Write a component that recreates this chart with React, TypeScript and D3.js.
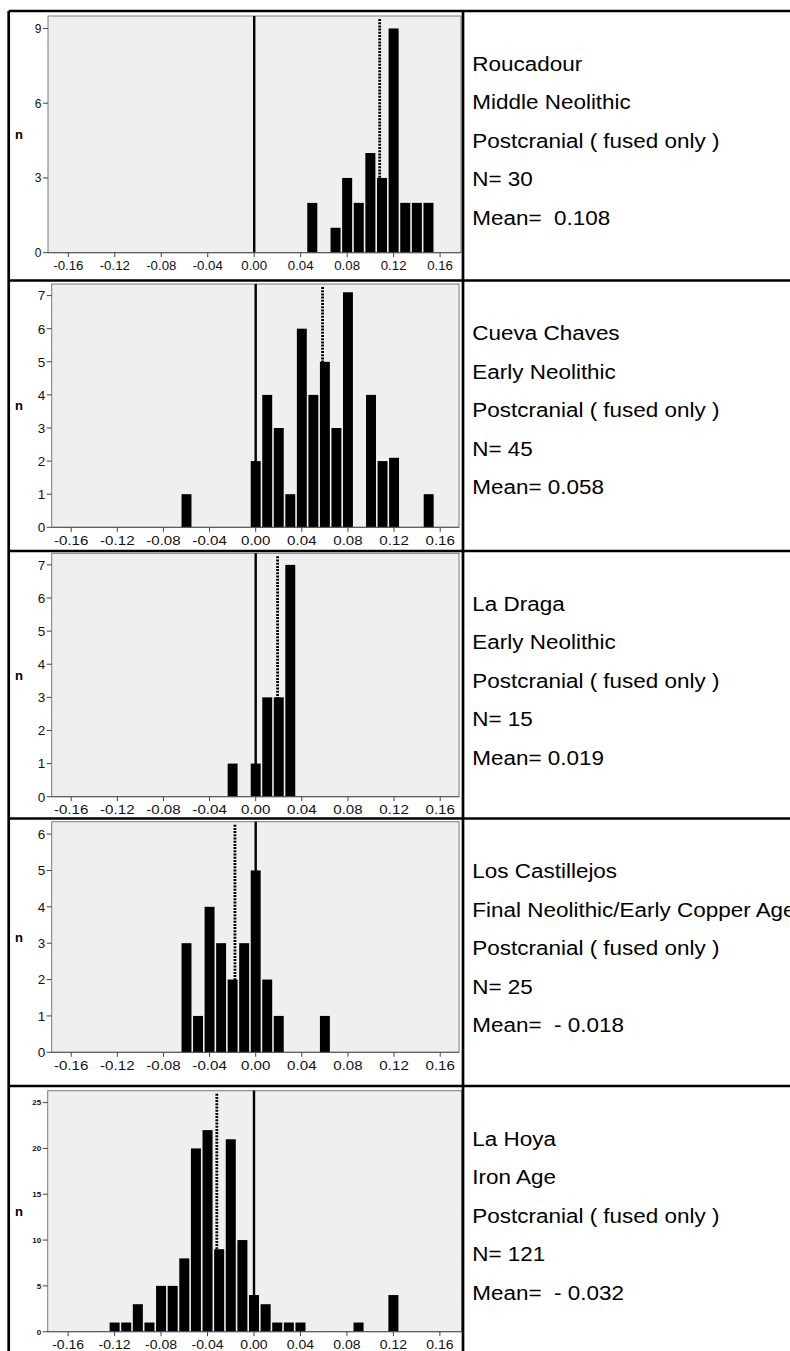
import React from "react";
import * as d3 from "d3";

// ---------- DATA ----------
const SITE_NAMES = ["Roucadour", "Cueva Chaves", "La Draga", "Los Castillejos", "La Hoya"];
const PERIODS = [
  "Middle Neolithic",
  "Early Neolithic",
  "Early Neolithic",
  "Final Neolithic/Early Copper Age",
  "Iron Age",
];
const SAMPLE_LABEL = "Postcranial ( fused only )";
const N_LABELS = ["N= 30", "N= 45", "N= 15", "N= 25", "N= 121"];
const MEAN_LABELS = ["Mean=  0.108", "Mean= 0.058", "Mean= 0.019", "Mean=  - 0.018", "Mean=  - 0.032"];
const MEAN_VALUES = [0.108, 0.058, 0.019, -0.018, -0.032];

const roucadourBins = [0.05, 0.07, 0.08, 0.09, 0.1, 0.11, 0.12, 0.13, 0.14, 0.15];
const roucadourCounts = [2, 1, 3, 2, 4, 3, 9, 2, 2, 2];

const cuevaBins = [-0.06, 0.0, 0.01, 0.02, 0.03, 0.04, 0.05, 0.06, 0.07, 0.08, 0.1, 0.11, 0.12, 0.15];
const cuevaCounts = [1, 2, 4, 3, 1, 6, 4, 5, 3, 7.1, 4, 2, 2.1, 1];

const dragaBins = [-0.02, 0.0, 0.01, 0.02, 0.03];
const dragaCounts = [1, 1, 3, 3, 7];

const castillejosBins = [-0.06, -0.05, -0.04, -0.03, -0.02, -0.01, 0.0, 0.01, 0.02, 0.06];
const castillejosCounts = [3, 1, 4, 3, 2, 3, 5, 2, 1, 1];

const hoyaBins = [
  -0.12, -0.11, -0.1, -0.09, -0.08, -0.07, -0.06, -0.05, -0.04, -0.03, -0.02, -0.01, 0.0, 0.01, 0.02,
  0.03, 0.04, 0.09, 0.12,
];
const hoyaCounts = [1, 1, 3, 1, 5, 5, 8, 20, 22, 9, 21, 10, 4, 3, 1, 1, 1, 1, 4];

const X_TICKS = [-0.16, -0.12, -0.08, -0.04, 0.0, 0.04, 0.08, 0.12, 0.16];
const Y_TICKS = [
  [0, 3, 6, 9],
  [0, 1, 2, 3, 4, 5, 6, 7],
  [0, 1, 2, 3, 4, 5, 6, 7],
  [0, 1, 2, 3, 4, 5, 6],
  [0, 5, 10, 15, 20, 25],
];
const BINS = [roucadourBins, cuevaBins, dragaBins, castillejosBins, hoyaBins];
const COUNTS = [roucadourCounts, cuevaCounts, dragaCounts, castillejosCounts, hoyaCounts];
const BIN_WIDTH = 0.01;

// ---------- LAYOUT ----------
type Layout = {
  rowTop: number;
  left: number;
  right: number;
  top: number;
  bottom: number;
  xDomain: [number, number];
  yMax: number;
  xFont: number;
  xStretch: number;
  yFont: number;
  yBold: boolean;
};

const LAYOUTS: Layout[] = [
  { rowTop: 11, left: 48, right: 461, top: 16, bottom: 252.7, xDomain: [-0.1775, 0.178], yMax: 9.5, xFont: 12.5, xStretch: 1.06, yFont: 12, yBold: false },
  { rowTop: 280.5, left: 51.7, right: 459, top: 284, bottom: 527.3, xDomain: [-0.1769, 0.1763], yMax: 7.35, xFont: 13.5, xStretch: 1.12, yFont: 13.5, yBold: false },
  { rowTop: 551, left: 51.7, right: 459, top: 553.3, bottom: 796.7, xDomain: [-0.1769, 0.1763], yMax: 7.35, xFont: 13.5, xStretch: 1.12, yFont: 13.5, yBold: false },
  { rowTop: 818.5, left: 51.7, right: 459, top: 821.7, bottom: 1052.3, xDomain: [-0.1769, 0.1763], yMax: 6.34, xFont: 13.5, xStretch: 1.12, yFont: 13.5, yBold: false },
  { rowTop: 1086, left: 47.7, right: 461.7, top: 1090.7, bottom: 1331.7, xDomain: [-0.1776, 0.1788], yMax: 26.3, xFont: 13, xStretch: 1.08, yFont: 8, yBold: true },
];

const ROW_DIVIDERS = [280.5, 551, 818.5, 1086];
const FRAME_LEFT = 8.7;
const FRAME_TOP = 11;
const COL_DIVIDER = 463;
const TEXT_X = 472.3;
const FONT = "'Liberation Sans', Arial, Helvetica, sans-serif";

function fmtTick(v: number) {
  const s = Math.abs(v).toFixed(2);
  return v < 0 ? "-" + s : s;
}

function Panel({ i }: { i: number }) {
  const L = LAYOUTS[i];
  const x = d3.scaleLinear().domain(L.xDomain).range([L.left, L.right]);
  const y = d3.scaleLinear().domain([0, L.yMax]).range([L.bottom, L.top]);
  const bins = BINS[i];
  const counts = COUNTS[i];
  const binPx = x(BIN_WIDTH) - x(0);
  const barW = binPx - 1.6;
  const labelY = L.bottom + 12.6 + 0.36 * L.xFont;
  const textLines = [SITE_NAMES[i], PERIODS[i], SAMPLE_LABEL, N_LABELS[i], MEAN_LABELS[i]];
  return (
    <g>
      <rect x={L.left} y={L.top} width={L.right - L.left} height={L.bottom - L.top} fill="#efefef" stroke="#7a7a7a" strokeWidth={1} />
      <line x1={x(0)} x2={x(0)} y1={L.top} y2={L.bottom} stroke="#000" strokeWidth={2.4} />
      <line x1={x(MEAN_VALUES[i])} x2={x(MEAN_VALUES[i])} y1={L.top + 3} y2={L.bottom} stroke="#000" strokeWidth={2.8} strokeDasharray="2,1.2" />
      {bins.map((b, k) => (
        <rect key={k} x={x(b) - barW / 2} y={y(counts[k])} width={barW} height={L.bottom - y(counts[k])} fill="#000" />
      ))}
      <line x1={L.left} x2={L.right} y1={L.bottom} y2={L.bottom} stroke="#555" strokeWidth={1} />
      {X_TICKS.map((t) => (
        <g key={t}>
          <line x1={x(t)} x2={x(t)} y1={L.bottom} y2={L.bottom + 4.5} stroke="#444" strokeWidth={1} />
          <text
            transform={`translate(${x(t)},${labelY}) scale(${L.xStretch},1)`}
            textAnchor="middle"
            fontSize={L.xFont}
            fontFamily={FONT}
            fill="#111"
          >
            {fmtTick(t)}
          </text>
        </g>
      ))}
      {Y_TICKS[i].map((t) => (
        <g key={t}>
          <line x1={L.left - 5} x2={L.left} y1={y(t)} y2={y(t)} stroke="#444" strokeWidth={1} />
          <text
            x={L.left - 6.5}
            y={y(t) + 0.36 * L.yFont}
            textAnchor="end"
            fontSize={L.yFont}
            fontWeight={L.yBold ? "bold" : "normal"}
            fontFamily={FONT}
            fill="#111"
          >
            {t}
          </text>
        </g>
      ))}
      <text x={19} y={(L.top + L.bottom) / 2 + 4.5} textAnchor="middle" fontSize={13} fontWeight="bold" fontFamily={FONT}>
        n
      </text>
      {textLines.map((s, k) => (
        <text
          key={k}
          transform={`translate(${TEXT_X},${L.rowTop + 59.5 + k * 38.6}) scale(1.07,1)`}
          fontSize={21}
          fontFamily={FONT}
          fill="#000"
          style={{ whiteSpace: "pre" }}
        >
          {s}
        </text>
      ))}
    </g>
  );
}

export default function App() {
  return (
    <svg width={790} height={1351} style={{ position: "absolute", left: 0, top: 0, background: "#fff" }}>
      <rect x={0} y={0} width={790} height={1351} fill="#fff" />
      {LAYOUTS.map((_, i) => (
        <Panel key={i} i={i} />
      ))}
      <line x1={FRAME_LEFT} x2={800} y1={FRAME_TOP} y2={FRAME_TOP} stroke="#000" strokeWidth={2.7} />
      <line x1={FRAME_LEFT} x2={FRAME_LEFT} y1={FRAME_TOP} y2={1360} stroke="#000" strokeWidth={2.7} />
      <line x1={COL_DIVIDER} x2={COL_DIVIDER} y1={FRAME_TOP} y2={1360} stroke="#000" strokeWidth={2.7} />
      {ROW_DIVIDERS.map((r) => (
        <line key={r} x1={FRAME_LEFT} x2={800} y1={r} y2={r} stroke="#000" strokeWidth={2.7} />
      ))}
    </svg>
  );
}
